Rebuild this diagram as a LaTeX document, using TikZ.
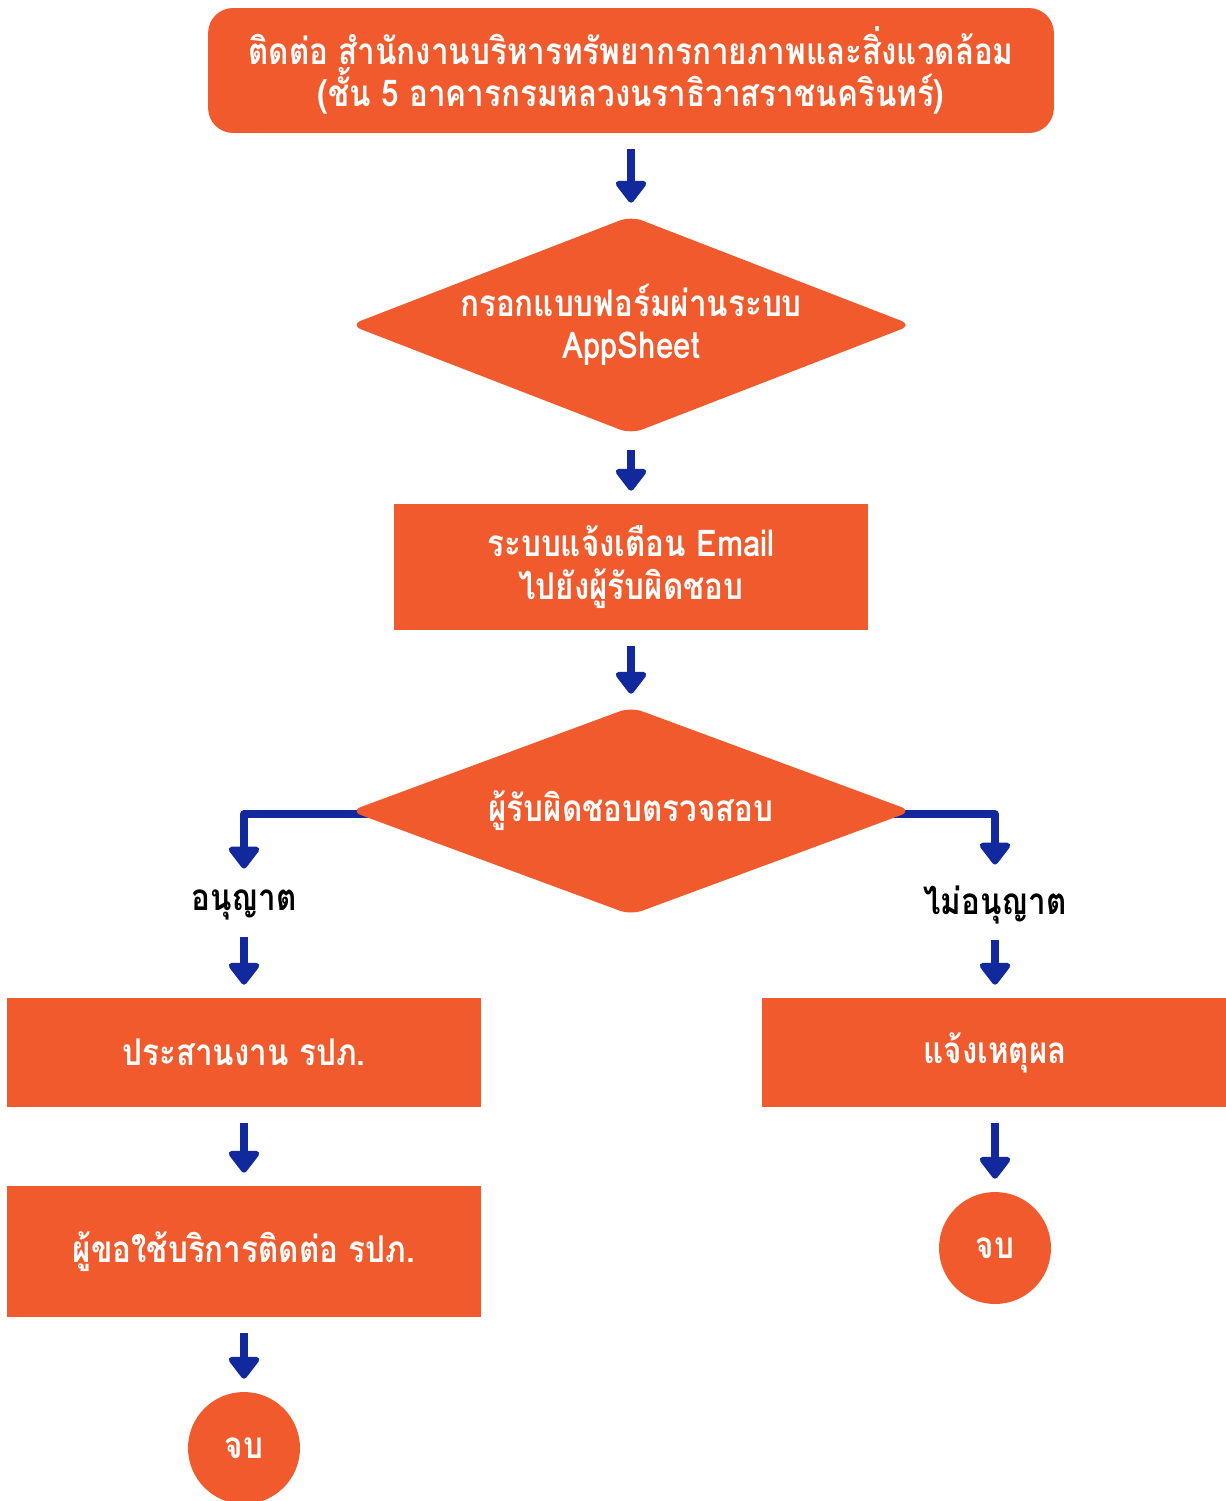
\documentclass[tikz,border=0pt]{standalone}
\usepackage{fontspec}
\newfontfamily\thaifont[Script=Thai,FakeStretch=0.85]{Loma}
\usetikzlibrary{positioning,shapes.geometric,arrows.meta,backgrounds}
\definecolor{camdam}{HTML}{F05A2C}
\definecolor{xanhdam}{HTML}{12299E}
\tikzset{
	chu/.style={inner sep=0pt,align=center,
		font=\thaifont\bfseries\fontsize{21}{24}\selectfont},
	hop/.style={chu,fill=camdam,text=white},
	thoi/.style={fill=camdam,diamond,inner sep=0pt,rounded corners=0.24cm},
	tron/.style={hop,circle,minimum size=2.24cm},
	muiten/.style={draw=xanhdam,line width=0.15cm,line join=round,
		-{Triangle[width=0.7cm,length=0.48cm,round]},
		shorten <=0.32cm,shorten >=0.26cm}
}
\begin{document}
\begin{tikzpicture}[x=0.02cm,y=-0.02cm]
	\useasboundingbox (0,0) rectangle (1225,1501);
	\def\cx{631} % cot giua
	\def\tr{244} % cot trai
	\def\ph{995} % cot phai
	\node[hop,rounded corners=0.5cm,minimum width=16.92cm,minimum height=2.5cm] (lienhe) at (\cx,70.5)
		{ติดต่อ สำนักงานบริหารทรัพยากรกายภาพและสิ่งแวดล้อม\\(ชั้น 5 อาคารกรมหลวงนราธิวาสราชนครินทร์)};
	\node[thoi,minimum width=11.25cm,minimum height=4.36cm,
		label={[chu,text=white]center:กรอกแบบฟอร์มผ่านระบบ\\AppSheet}] (bieumau) at (\cx,325) {};
	\node[hop,minimum width=9.48cm,minimum height=2.52cm] (email) at (\cx,567)
		{ระบบแจ้งเตือน Email\\ไปยังผู้รับผิดชอบ};
	\node[thoi,minimum width=11.25cm,minimum height=4.16cm,
		label={[chu,text=white]center:ผู้รับผิดชอบตรวจสอบ}] (kiemtra) at (\cx,811) {};
	\node[chu] (duyet) at (\tr,905) {อนุญาต};
	\node[chu] (khong) at (\ph,905) {ไม่อนุญาต};
	\node[hop,minimum width=9.48cm,minimum height=2.18cm] (phoihop) at (\tr,1052.5)
		{ประสานงาน รปภ.};
	\node[hop,minimum width=9.48cm,minimum height=2.62cm] (lienlac) at (\tr,1251.5)
		{ผู้ขอใช้บริการติดต่อ รปภ.};
	\node[tron] (hettrai) at (\tr,1448) {จบ};
	\node[hop,minimum width=9.32cm,minimum height=2.18cm] (lydo) at (\ph,1052.5)
		{แจ้งเหตุผล};
	\node[tron] (hetphai) at (\ph,1248) {จบ};
	\foreach \a/\b in {lienhe/bieumau,bieumau/email,email/kiemtra,duyet/phoihop,
		phoihop/lienlac,lienlac/hettrai,khong/lydo,lydo/hetphai}
		\draw[muiten] (\a)--(\b);
	% nhanh re trai / phai, nam duoi hinh thoi
	\begin{scope}[on background layer]
		\draw[muiten,shorten <=0pt,shorten >=0.42cm] ([yshift=-0.06cm]kiemtra.center)-|(duyet.north);
		\draw[muiten,shorten <=0pt,shorten >=0.42cm] ([yshift=-0.06cm]kiemtra.center)-|(khong.north);
	\end{scope}
\end{tikzpicture}
\end{document}
